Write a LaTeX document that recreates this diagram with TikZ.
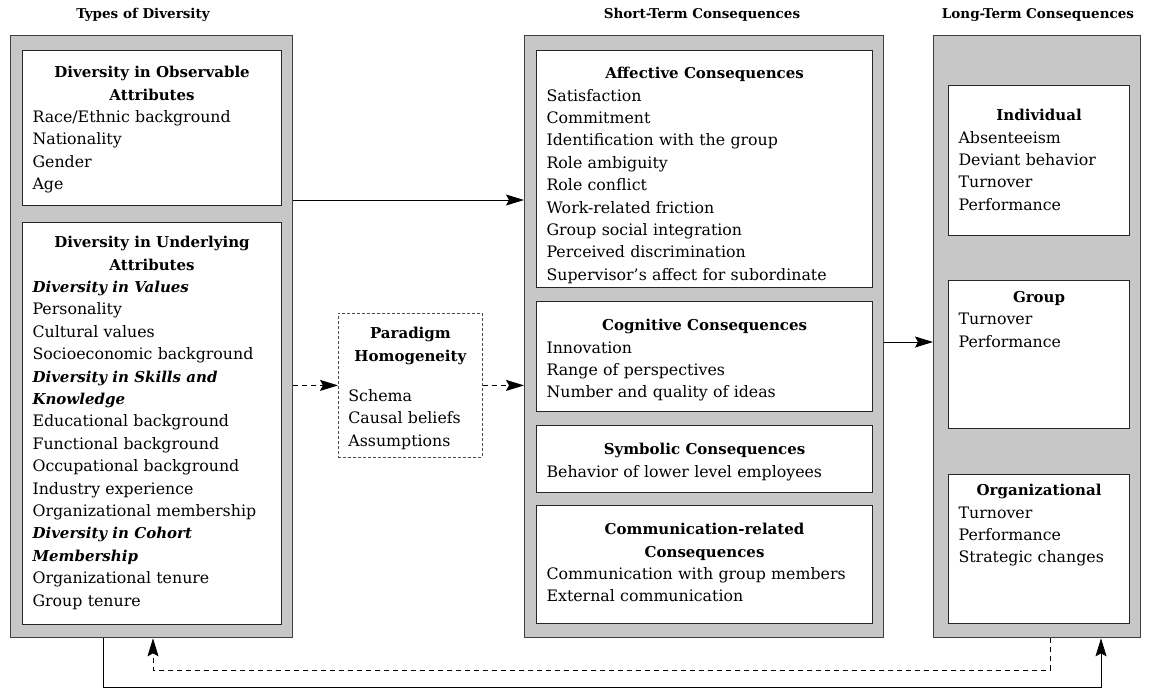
\documentclass[tikz,border=0pt]{standalone}
\usepackage{fontspec}
\setmainfont{DejaVu Serif}
\usetikzlibrary{arrows.meta}
\tikzset{
  panel/.style={draw=black!75, line width=1.3pt, fill=black!22, anchor=north west, inner sep=0pt},
  inbox/.style={draw=black!85, line width=1.1pt, fill=white, anchor=north west, inner sep=0pt},
  txt/.style={anchor=north, align=left, inner sep=0pt, font=\fontsize{15.8}{22.4}\selectfont},
  ttl/.style={font=\bfseries\fontsize{13.5}{16}\selectfont},
  arr/.style={-{Stealth[length=18pt,width=11pt,inset=3pt]}, line width=0.9pt},
  darr/.style={arr, dash pattern=on 5pt off 4pt}
}
\newcommand{\boxhead}[1]{{\centering\bfseries\fontsize{15}{22.4}\selectfont #1\par}}
\newcommand{\subhead}[1]{{\bfseries\itshape\fontsize{15}{22.4}\selectfont #1}}

\begin{document}
\begin{tikzpicture}[x=1pt, y=-1pt]
  \useasboundingbox (0,0) rectangle (1150,689);
  % panels
  \node[panel, minimum width=282pt, minimum height=602pt] (types) at (10,35) {};
  \node[panel, minimum width=359pt, minimum height=602pt] (short) at (524,35) {};
  \node[panel, minimum width=207pt, minimum height=602pt] (long) at (933,35) {};
  \node[ttl] (ttypes) at (143,15) {Types of Diversity};
  \node[ttl] (tshort) at (702,15) {Short-Term Consequences};
  \node[ttl] (tlong) at (1038,15) {Long-Term Consequences};

  % types of diversity
  \node[inbox, minimum width=259pt, minimum height=155pt] (obs) at (22,50) {};
  \node[txt, text width=239pt] at ([yshift=-16pt]obs.north) {%
    \boxhead{Diversity in Observable\\ Attributes}
    Race/Ethnic background\\ Nationality\\ Gender\\ Age};
  \node[inbox, minimum width=259pt, minimum height=402pt] (und) at (22,222) {};
  \node[txt, text width=239pt] at ([yshift=-14pt]und.north) {%
    \boxhead{Diversity in Underlying\\ Attributes}
    \subhead{Diversity in Values}\\ Personality\\ Cultural values\\
    Socioeconomic background\\ \subhead{Diversity in Skills and}\\
    \subhead{Knowledge}\\ Educational background\\ Functional background\\
    Occupational background\\ Industry experience\\ Organizational membership\\
    \subhead{Diversity in Cohort}\\ \subhead{Membership}\\
    Organizational tenure\\ Group tenure};

  % paradigm
  \node[draw=black!70, line width=0.8pt, dash pattern=on 3pt off 2pt, anchor=north west,
    minimum width=144pt, minimum height=144pt, inner sep=0pt] (para) at (338,313) {};
  \node[txt, text width=124pt] at ([yshift=-14pt]para.north) {%
    \boxhead{Paradigm\\ Homogeneity}
    \vspace{18pt}
    Schema\\ Causal beliefs\\ Assumptions};

  % short-term consequences
  \node[inbox, minimum width=336pt, minimum height=237pt] (aff) at (536,50) {};
  \node[txt, text width=316pt] at ([yshift=-17pt]aff.north) {%
    \boxhead{Affective Consequences}
    Satisfaction\\ Commitment\\ Identification with the group\\ Role ambiguity\\
    Role conflict\\ Work-related friction\\ Group social integration\\
    Perceived discrimination\\ Supervisor's affect for subordinate};
  \node[inbox, minimum width=336pt, minimum height=110pt] (cog) at (536,301) {};
  \node[txt, text width=316pt] at ([yshift=-18pt]cog.north) {%
    \boxhead{Cognitive Consequences}
    Innovation\\ Range of perspectives\\ Number and quality of ideas};
  \node[inbox, minimum width=336pt, minimum height=67pt] (sym) at (536,425) {};
  \node[txt, text width=316pt] at ([yshift=-18pt]sym.north) {%
    \boxhead{Symbolic Consequences}
    Behavior of lower level employees};
  \node[inbox, minimum width=336pt, minimum height=118pt] (com) at (536,505) {};
  \node[txt, text width=316pt] at ([yshift=-18pt]com.north) {%
    \boxhead{Communication-related\\ Consequences}
    Communication with group members\\ External communication};

  % long-term consequences
  \node[inbox, minimum width=181pt, minimum height=150pt] (ind) at (948,85) {};
  \node[txt, text width=161pt] at ([yshift=-24pt]ind.north) {%
    \boxhead{Individual}
    Absenteeism\\ Deviant behavior\\ Turnover\\ Performance};
  \node[inbox, minimum width=181pt, minimum height=148pt] (grp) at (948,280) {};
  \node[txt, text width=161pt] at ([yshift=-11pt]grp.north) {%
    \boxhead{Group}
    Turnover\\ Performance};
  \node[inbox, minimum width=181pt, minimum height=149pt] (org) at (948,474) {};
  \node[txt, text width=161pt] at ([yshift=-10pt]org.north) {%
    \boxhead{Organizational}
    Turnover\\ Performance\\ Strategic changes};

  % connectors
  \draw[arr] (types.east |- 0,200) -- (short.west |- 0,200);
  \draw[darr] (types.east |- para.west) -- (para.west);
  \draw[darr] (para.east) -- (short.west |- para.east);
  \draw[arr] (short.east |- 0,342) -- (long.west |- 0,342);
  \draw[darr] (long.south -| 1050,0) -- (1050,670) -| (types.south -| 153,0);
  \draw[arr, line width=0.7pt] (types.south -| 103,0) -- (103,687) -| (long.south -| 1101,0);
\end{tikzpicture}
\end{document}
